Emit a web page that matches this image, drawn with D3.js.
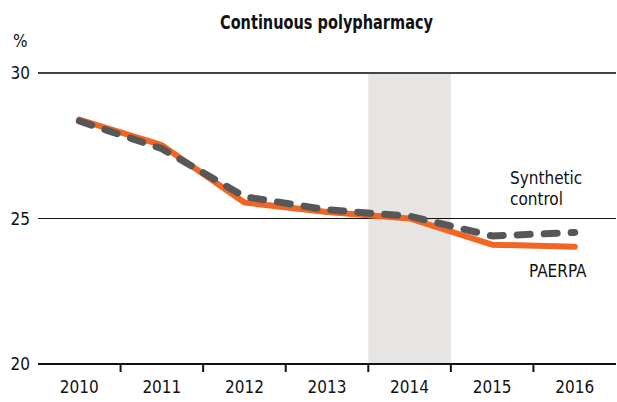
<!DOCTYPE html>
<html lang="en">
<head>
  <meta charset="UTF-8">
  <title>Continuous polypharmacy</title>
  <script src="https://d3js.org/d3.v7.min.js"></script>
  <style>
    body {
      margin: 0;
      background: #fff;
      font-family: 'DejaVu Sans Condensed', 'Liberation Sans Narrow', Arial, sans-serif;
    }
    svg { display: block; }
    .tick-label { font-size: 17px; fill: #111; }
  </style>
</head>
<body>
<svg id="chart" width="617" height="402"></svg>
<script>
const years = ["2010", "2011", "2012", "2013", "2014", "2015", "2016"];
const paerpa = [28.4, 27.52, 25.55, 25.22, 25.0, 24.1, 24.03];
const synthetic = [28.35, 27.4, 25.75, 25.3, 25.08, 24.4, 24.52];
const yTicks = [20, 25, 30];
const shadedYear = "2014";

const svg = d3.select("#chart");
const plot = {left: 38, right: 616, top: 73, bottom: 364};

const x = d3.scaleBand().domain(years).range([plot.left, plot.right]);
const y = d3.scaleLinear().domain([20, 30]).range([plot.bottom, plot.top]);

// shaded intervention year
svg.append("rect")
  .attr("x", x(shadedYear))
  .attr("width", x.bandwidth())
  .attr("y", y(30))
  .attr("height", y(20) - y(30))
  .attr("fill", "#e6e5e3");

// gridlines
svg.append("line")
  .attr("x1", plot.left).attr("x2", plot.right)
  .attr("y1", y(30)).attr("y2", y(30))
  .attr("stroke", "#444").attr("stroke-width", 2);
svg.append("line")
  .attr("x1", plot.left).attr("x2", plot.right)
  .attr("y1", y(25)).attr("y2", y(25))
  .attr("stroke", "#111").attr("stroke-width", 1);

// y labels
svg.selectAll(".ylab")
  .data(yTicks)
  .join("text")
  .attr("class", "tick-label")
  .attr("x", 30)
  .attr("y", d => y(d) + 6)
  .attr("text-anchor", "end")
  .text(d => d);

svg.append("text")
  .attr("class", "tick-label")
  .attr("x", 13).attr("y", 47)
  .text("%");

// x axis
const xAxis = svg.append("g").attr("transform", `translate(0,${plot.bottom})`);
xAxis.append("line")
  .attr("x1", plot.left).attr("x2", plot.right)
  .attr("stroke", "#111").attr("stroke-width", 2);
xAxis.selectAll(".xt")
  .data(years.slice(1))
  .join("line")
  .attr("x1", d => x(d)).attr("x2", d => x(d))
  .attr("y1", 0).attr("y2", 8)
  .attr("stroke", "#111").attr("stroke-width", 2);
xAxis.selectAll(".xl")
  .data(years)
  .join("text")
  .attr("class", "tick-label")
  .attr("x", d => x(d) + x.bandwidth() / 2)
  .attr("y", 29)
  .attr("text-anchor", "middle")
  .text(d => d);

const line = d3.line()
  .x((d, i) => x(years[i]) + x.bandwidth() / 2)
  .y(d => y(d));

svg.append("path")
  .datum(paerpa)
  .attr("d", line)
  .attr("fill", "none")
  .attr("stroke", "#f26522")
  .attr("stroke-width", 6)
  .attr("stroke-linecap", "round")
  .attr("stroke-linejoin", "round");

svg.append("path")
  .datum(synthetic)
  .attr("d", line)
  .attr("fill", "none")
  .attr("stroke", "#575757")
  .attr("stroke-width", 7)
  .attr("stroke-dasharray", "13,14")
  .attr("stroke-linecap", "round")
  .attr("stroke-linejoin", "round");

// title
svg.append("text")
  .attr("x", 220).attr("y", 29)
  .attr("font-size", 20)
  .attr("font-weight", "bold")
  .attr("fill", "#111")
  .attr("textLength", 213)
  .attr("lengthAdjust", "spacingAndGlyphs")
  .text("Continuous polypharmacy");

// series labels
const lab = svg.append("text")
  .attr("class", "tick-label")
  .attr("x", 510).attr("y", 184);
lab.append("tspan").attr("x", 510).text("Synthetic");
lab.append("tspan").attr("x", 510).attr("dy", 21).text("control");

svg.append("text")
  .attr("class", "tick-label")
  .attr("x", 529).attr("y", 277)
  .text("PAERPA");
</script>
</body>
</html>
